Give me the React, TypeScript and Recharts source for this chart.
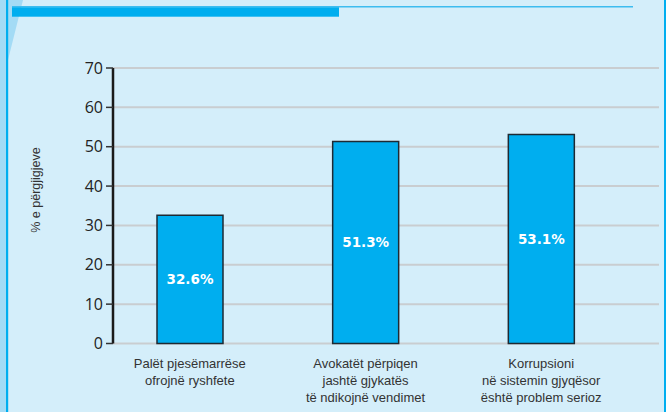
import React from 'react'
import { BarChart, Bar, XAxis, YAxis, CartesianGrid, LabelList } from 'recharts'

const categories = [
  ['Palët pjesëmarrëse', 'ofrojnë ryshfete'],
  ['Avokatët përpiqen', 'jashtë gjykatës', 'të ndikojnë vendimet'],
  ['Korrupsioni', 'në sistemin gjyqësor', 'është problem serioz'],
]
const values = [32.6, 51.3, 53.1]
const yTicks = [0, 10, 20, 30, 40, 50, 60, 70]

const data = categories.map((lines, i) => ({ name: lines.join('\n'), value: values[i] }))

const BG = '#d4eefa'
const CYAN = '#00aeef'

const CategoryTick = (props: any) => {
  const { x, y, payload } = props
  const lines = String(payload.value).split('\n')
  return (
    <text x={x} y={y} textAnchor="middle" fill="#333" fontSize={13} fontFamily="'Liberation Sans', Arial, sans-serif">
      {lines.map((l, i) => (
        <tspan key={i} x={x} dy={i === 0 ? 16 : 17}>
          {l}
        </tspan>
      ))}
    </text>
  )
}

export default function App() {
  return (
    <div style={{ position: 'fixed', left: 0, top: 0, width: 666, height: 412, background: BG, overflow: 'hidden' }}>
      <svg width={666} height={412} style={{ position: 'absolute', left: 0, top: 0 }}>
        <rect x={0} y={0} width={6} height={412} fill="#a3dbf5" />
        <polygon points="8,0 23,0 8,60" fill="#a3dbf5" />
        <rect x={6} y={0} width={2.2} height={412} fill={CYAN} />
        <rect x={664} y={0} width={2} height={412} fill={CYAN} />
        <rect x={12} y={6} width={621} height={1.5} fill="#3dbcef" />
        <rect x={12} y={7.3} width={327} height={9.4} fill={CYAN} />
        <text
          transform="translate(40,190) rotate(-90)"
          textAnchor="middle"
          fill="#333"
          fontSize={12.5}
          fontFamily="'Liberation Sans', Arial, sans-serif"
        >
          % e përgjigjeve
        </text>
      </svg>
      <div style={{ position: 'absolute', left: 0, top: 0 }}>
        <BarChart width={666} height={412} data={data} margin={{ top: 68, right: 7, left: 0, bottom: 8.5 }}>
          <CartesianGrid vertical={false} stroke="#c9cdd0" strokeWidth={2} />
          <XAxis
            dataKey="name"
            axisLine={false}
            tickLine={false}
            height={60}
            interval={0}
            padding={{ left: -11, right: 30 }}
            tick={<CategoryTick />}
          />
          <YAxis
            width={113}
            domain={[0, 70]}
            ticks={yTicks}
            interval={0}
            axisLine={{ stroke: '#1a1a1a', strokeWidth: 2.5 }}
            tickLine={{ stroke: '#333', strokeWidth: 1.5 }}
            tickSize={7}
            tickMargin={3}
            tick={{ fill: '#222', fontSize: 16, fontFamily: "'Open Sans', sans-serif" }}
          />
          <Bar dataKey="value" fill={CYAN} stroke="#1e2a33" strokeWidth={1.5} barSize={66} isAnimationActive={false}>
            <LabelList
              dataKey="value"
              position="center"
              formatter={(v: any) => `${Number(v).toFixed(1)}%`}
              fill="#fff"
              fontSize={13.5}
              fontWeight="bold"
              fontFamily="'DejaVu Sans', sans-serif"
            />
          </Bar>
        </BarChart>
      </div>
    </div>
  )
}
